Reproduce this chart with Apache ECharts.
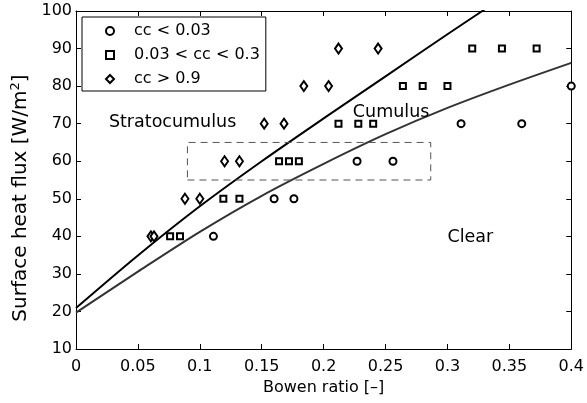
<!DOCTYPE html>
<html>
<head>
<meta charset="utf-8">
<script src="https://cdn.jsdelivr.net/npm/echarts@6/dist/echarts.min.js"></script>
<style>
  html, body { margin: 0; padding: 0; background: #fff; }
  #chart { width: 587px; height: 403px; }
</style>
</head>
<body>
<div id="chart"></div>
<script>
// 观测点 (Bowen ratio, heat flux)
const clearPts = [[0.111, 40], [0.16, 50], [0.176, 50], [0.227, 60], [0.256, 60], [0.311, 70], [0.36, 70], [0.4, 80]]
const cumulusPts = [
  [0.076, 40], [0.084, 40], [0.119, 50], [0.132, 50],
  [0.164, 60], [0.172, 60], [0.18, 60],
  [0.212, 70], [0.228, 70], [0.24, 70],
  [0.264, 80], [0.28, 80], [0.3, 80],
  [0.32, 90], [0.344, 90], [0.372, 90]
]
const stratoPts = [
  [0.0605, 40], [0.063, 40], [0.088, 50], [0.1, 50],
  [0.12, 60], [0.132, 60], [0.152, 70], [0.168, 70],
  [0.184, 80], [0.204, 80], [0.212, 90], [0.244, 90]
]

// 两条分界线
const upperCurve = [[0, 20.9], [0.05, 34.9], [0.1, 48], [0.15, 60], [0.2, 71.4], [0.25, 82.6], [0.3, 93.8], [0.33, 100.4]]
const lowerCurve = [[0, 19.7], [0.05, 30.6], [0.1, 41.2], [0.15, 50.8], [0.2, 59.3], [0.25, 67.2], [0.3, 74.2], [0.35, 80.4], [0.4, 86.2]]

// 虚线框
const boxX = [0.09, 0.2865]
const boxY = [55, 65]

// 区域标注
const regionLabels = [
  { name: 'Stratocumulus', value: [0.078, 70.4] },
  { name: 'Cumulus', value: [0.2545, 72.9] },
  { name: 'Clear', value: [0.3185, 39.6] }
]

const seriesNames = ['cc < 0.03', '0.03 < cc < 0.3', 'cc > 0.9']

const FONT = 'DejaVu Sans'

const chart = echarts.init(document.getElementById('chart'))

const axisCommon = {
  axisLine: { show: true, onZero: false, lineStyle: { color: '#000', width: 1 } },
  axisTick: { show: true, inside: true, length: 5, lineStyle: { color: '#000' } },
  splitLine: { show: false }
}

// 散点默认 opacity 0.8，这里改成 1
const markerStyle = {
  color: '#fff',
  borderColor: '#000',
  borderWidth: 2,
  opacity: 1
}

const option = {
  animation: false,
  backgroundColor: '#fff',
  textStyle: { fontFamily: FONT },
  grid: { left: 76, right: 15, top: 11, bottom: 54 },
  legend: {
    data: seriesNames,
    orient: 'vertical',
    left: 82,
    top: 17,
    itemWidth: 8,
    itemHeight: 8,
    itemGap: 8,
    padding: [6, 6, 4, 23],
    borderColor: '#000',
    borderWidth: 1,
    backgroundColor: '#fff',
    itemStyle: { color: '#fff', borderColor: '#000', borderWidth: 2, opacity: 1 },
    textStyle: { fontFamily: FONT, fontSize: 16, color: '#000', padding: [0, 0, 0, 15] }
  },
  xAxis: [
    {
      type: 'value',
      min: 0,
      max: 0.4,
      interval: 0.05,
      name: 'Bowen ratio [–]',
      nameLocation: 'middle',
      nameGap: 26,
      nameTextStyle: { fontFamily: FONT, fontSize: 16, color: '#000' },
      axisLabel: { color: '#000', fontSize: 16, fontFamily: FONT, margin: 10 },
      ...axisCommon
    },
    {
      type: 'value',
      position: 'top',
      min: 0,
      max: 0.4,
      interval: 0.05,
      axisLabel: { show: false },
      ...axisCommon
    }
  ],
  yAxis: [
    {
      type: 'value',
      min: 10,
      max: 100,
      interval: 10,
      name: 'Surface heat flux [W/m{sup|2}]',
      nameLocation: 'middle',
      nameGap: 44,
      nameTextStyle: {
        fontFamily: FONT,
        fontSize: 20,
        color: '#000',
        padding: [0, 36, 0, 0],
        rich: { sup: { fontSize: 13, fontFamily: FONT, padding: [0, 0, 9, 0] } }
      },
      axisLabel: { color: '#000', fontSize: 16, fontFamily: FONT, margin: 4 },
      ...axisCommon
    },
    {
      type: 'value',
      position: 'right',
      min: 10,
      max: 100,
      interval: 10,
      axisLabel: { show: false },
      ...axisCommon
    }
  ],
  series: [
    {
      name: 'upper',
      type: 'line',
      data: upperCurve,
      smooth: 0.3,
      symbol: 'none',
      lineStyle: { color: '#000', width: 2 },
      z: 2
    },
    {
      name: 'lower',
      type: 'line',
      data: lowerCurve,
      smooth: 0.3,
      symbol: 'none',
      lineStyle: { color: '#333', width: 2 },
      z: 2
    },
    {
      name: 'box',
      type: 'line',
      data: [
        [boxX[0], boxY[0]], [boxX[1], boxY[0]],
        [boxX[1], boxY[1]], [boxX[0], boxY[1]],
        [boxX[0], boxY[0]]
      ],
      symbol: 'none',
      lineStyle: { color: '#555', width: 1, type: [7, 5] },
      z: 2
    },
    {
      name: seriesNames[0],
      type: 'scatter',
      data: clearPts,
      symbol: 'circle',
      symbolSize: 7,
      itemStyle: markerStyle,
      z: 3
    },
    {
      name: seriesNames[1],
      type: 'scatter',
      data: cumulusPts,
      symbol: 'rect',
      symbolSize: 6,
      itemStyle: markerStyle,
      z: 3
    },
    {
      name: seriesNames[2],
      type: 'scatter',
      data: stratoPts,
      symbol: 'diamond',
      symbolSize: [7, 10],
      itemStyle: markerStyle,
      z: 3
    },
    {
      name: 'labels',
      type: 'scatter',
      data: regionLabels,
      symbolSize: 0,
      itemStyle: { opacity: 1 },
      label: {
        show: true,
        position: 'inside',
        formatter: '{b}',
        fontFamily: FONT,
        fontSize: 17.5,
        color: '#000'
      },
      z: 4
    }
  ]
}

chart.setOption(option)

window.addEventListener('resize', () => chart.resize())
</script>
</body>
</html>
